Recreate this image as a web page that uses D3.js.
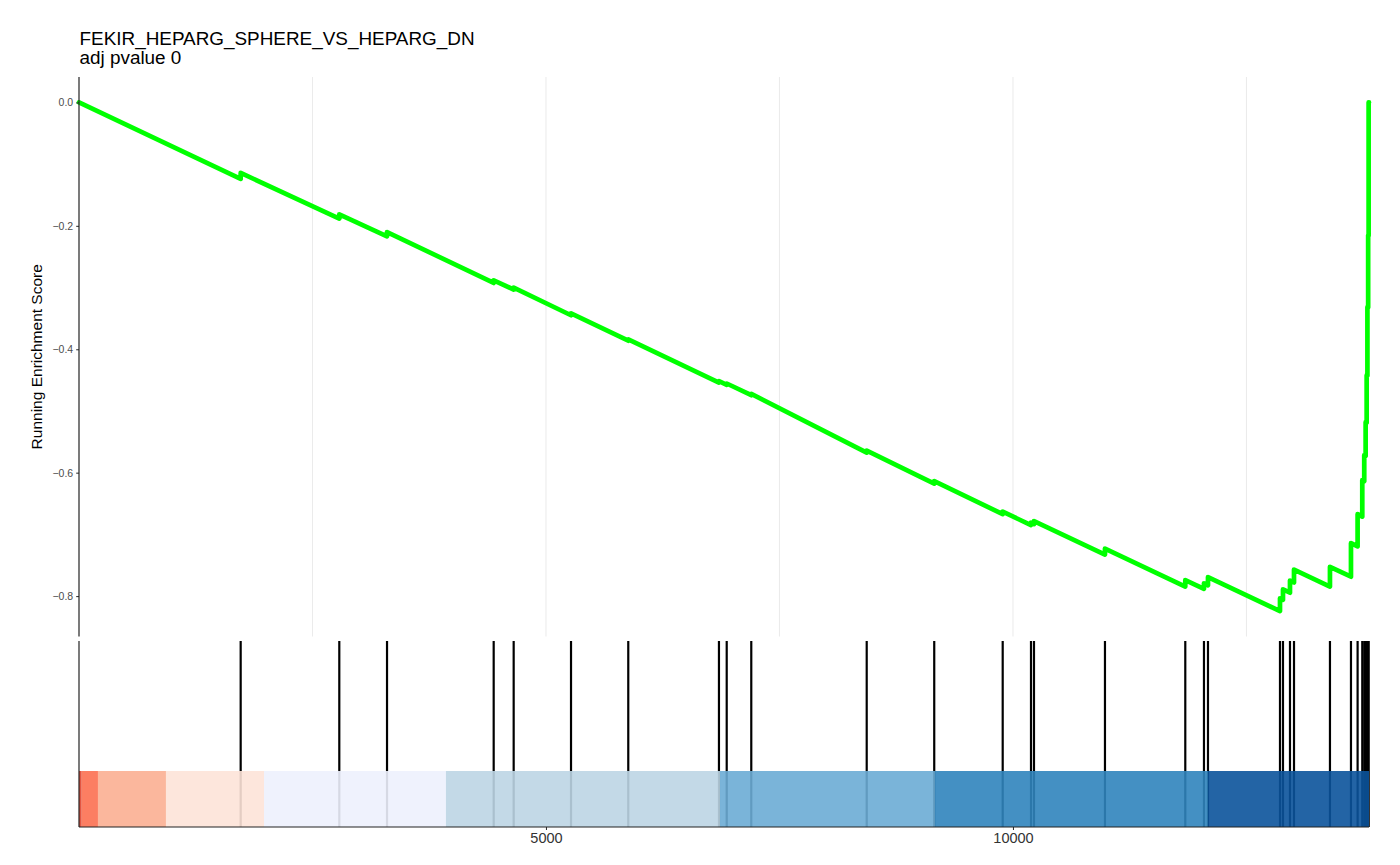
<!DOCTYPE html>
<html>
<head>
<meta charset="utf-8">
<script src="https://cdn.jsdelivr.net/npm/d3@7/dist/d3.min.js"></script>
<style>
  html, body { margin: 0; padding: 0; background: #fff; }
  svg { display: block; font-family: "Liberation Sans", Arial, Helvetica, sans-serif; }
</style>
</head>
<body>
<svg id="chart" width="1400" height="865"></svg>
<script>
// ---------------- data ----------------
const titleText = "FEKIR_HEPARG_SPHERE_VS_HEPARG_DN";
const subtitleText = "adj pvalue 0";
const yTitle = "Running Enrichment Score";
const nGenes = 13812;

// ranks of gene-set members in the ranked list
const hitRanks = [1731, 2787, 3298, 4440, 4654, 5268, 5881, 6852, 6935, 7198,
  8434, 9157, 9890, 10193, 10225, 10985, 11845, 12045, 12088, 12859,
  12891, 12966, 13009, 13394, 13619, 13690, 13740, 13761, 13776, 13787,
  13795, 13803, 13808];
// running enrichment score just before and just after each hit
const esBefore = [-0.1239, -0.1883, -0.2170, -0.2926, -0.3033, -0.3449, -0.3862, -0.4539, -0.4577, -0.4745,
  -0.5676, -0.6178, -0.6672, -0.6850, -0.6834, -0.7328, -0.7845, -0.7883, -0.7825, -0.8243,
  -0.8060, -0.7945, -0.7780, -0.7846, -0.7686, -0.7195, -0.6713, -0.6138, -0.5728, -0.5190,
  -0.4428, -0.3320, -0.2157];
const esAfter = [-0.1142, -0.1814, -0.2100, -0.2883, -0.3001, -0.3417, -0.3838, -0.4518, -0.4555, -0.4724,
  -0.5644, -0.6138, -0.6632, -0.6810, -0.6785, -0.7231, -0.7741, -0.7794, -0.7692, -0.8037,
  -0.7891, -0.7749, -0.7571, -0.7526, -0.7142, -0.6672, -0.6121, -0.5717, -0.5182, -0.4421,
  -0.3315, -0.2154, 0.0];
const esStart = 0.0;
const esEnd = 0.0;

// ranked-list colour band (bin edges in rank units, colours per bin)
const bandEdges = [0, 29, 203, 931, 1981, 3929, 6863, 9165, 12088, 13812];
const bandColors = ["#e0442e", "#fc7051", "#fbaf92", "#fde3d8", "#edf1fd", "#bcd5e4", "#6bacd5", "#3084bd", "#0b539b"];

const yTicks = [0, -0.2, -0.4, -0.6, -0.8];
const xTicks = [5000, 10000];
const xGrid = [2500, 5000, 7500, 10000, 12500];

// ---------------- layout ----------------
const svg = d3.select("#chart");
const L = 79, R = 1369;
const topY0 = 77, topY1 = 636.5;
const botY0 = 641, botY1 = 827, bandY0 = 771;

const x = d3.scaleLinear().domain([0, nGenes]).range([L, R]);
const esMin = d3.min(esBefore), esMax = 0;
const pad = (esMax - esMin) * 0.05;
const y = d3.scaleLinear().domain([esMin - pad, esMax + pad]).range([topY1, topY0]);

// gridlines (top panel)
svg.append("g").selectAll("line").data(xGrid).join("line")
  .attr("x1", d => x(d)).attr("x2", d => x(d))
  .attr("y1", topY0).attr("y2", topY1)
  .attr("stroke", "#ebebeb").attr("stroke-width", 1.07);

// running ES line
const pts = [[0, esStart]];
hitRanks.forEach((r, i) => { pts.push([r, esBefore[i]]); pts.push([r, esAfter[i]]); });
pts.push([nGenes, esEnd]);
svg.append("path").datum(pts)
  .attr("d", d3.line().x(d => x(d[0])).y(d => y(d[1])))
  .attr("fill", "none").attr("stroke", "#00ff00")
  .attr("stroke-width", 4.7).attr("stroke-linejoin", "round").attr("stroke-linecap", "round");

// top y axis
const yAxis = d3.axisLeft(y).tickValues(yTicks).tickFormat(d3.format(".1f")).tickSize(2.8).tickPadding(3);
const gy = svg.append("g").attr("transform", `translate(${L},0)`).call(yAxis);
gy.select(".domain").remove();
gy.selectAll(".tick line").attr("stroke", "#333").attr("stroke-width", 1.07);
gy.selectAll(".tick text").attr("fill", "#4d4d4d").style("font-size", "10.5px")
  .style("font-family", "Liberation Sans, Arial, sans-serif");
svg.append("line").attr("x1", L).attr("x2", L).attr("y1", topY0).attr("y2", topY1)
  .attr("stroke", "#222").attr("stroke-width", 1.2);

// hit lines (bottom panel)
svg.append("g").selectAll("line").data(hitRanks).join("line")
  .attr("x1", d => x(d)).attr("x2", d => x(d))
  .attr("y1", botY0).attr("y2", botY1)
  .attr("stroke", "#000").attr("stroke-width", 2.2);

// colour band
const bins = bandColors.map((c, i) => ({ a: bandEdges[i], b: bandEdges[i + 1], c }));
svg.append("g").selectAll("rect").data(bins).join("rect")
  .attr("x", d => x(d.a)).attr("width", d => x(d.b) - x(d.a))
  .attr("y", bandY0).attr("height", botY1 - bandY0)
  .attr("fill", d => d.c).attr("fill-opacity", 0.9);

// bottom axes
const xAxis = d3.axisBottom(x).tickValues(xTicks).tickFormat(d3.format("d")).tickSize(3).tickPadding(3);
const gx = svg.append("g").attr("transform", `translate(0,${botY1})`).call(xAxis);
gx.select(".domain").remove();
gx.selectAll(".tick line").attr("stroke", "#333").attr("stroke-width", 1.07);
gx.selectAll(".tick text").attr("fill", "#333").style("font-size", "14.5px")
  .style("font-family", "Liberation Sans, Arial, sans-serif");
svg.append("line").attr("x1", L).attr("x2", R).attr("y1", botY1).attr("y2", botY1)
  .attr("stroke", "#222").attr("stroke-width", 1.2);
svg.append("line").attr("x1", L).attr("x2", L).attr("y1", botY0).attr("y2", botY1)
  .attr("stroke", "#222").attr("stroke-width", 1.2);

// titles
svg.append("text").attr("x", 79.5).attr("y", 44.5).text(titleText)
  .style("font-size", "18.9px").attr("fill", "#000");
svg.append("text").attr("x", 79.5).attr("y", 64).text(subtitleText)
  .style("font-size", "18.9px").attr("fill", "#000");
svg.append("text")
  .attr("transform", `translate(42,${(topY0 + topY1) / 2}) rotate(-90)`)
  .attr("text-anchor", "middle").text(yTitle)
  .style("font-size", "15.5px").attr("fill", "#000");
</script>
</body>
</html>
